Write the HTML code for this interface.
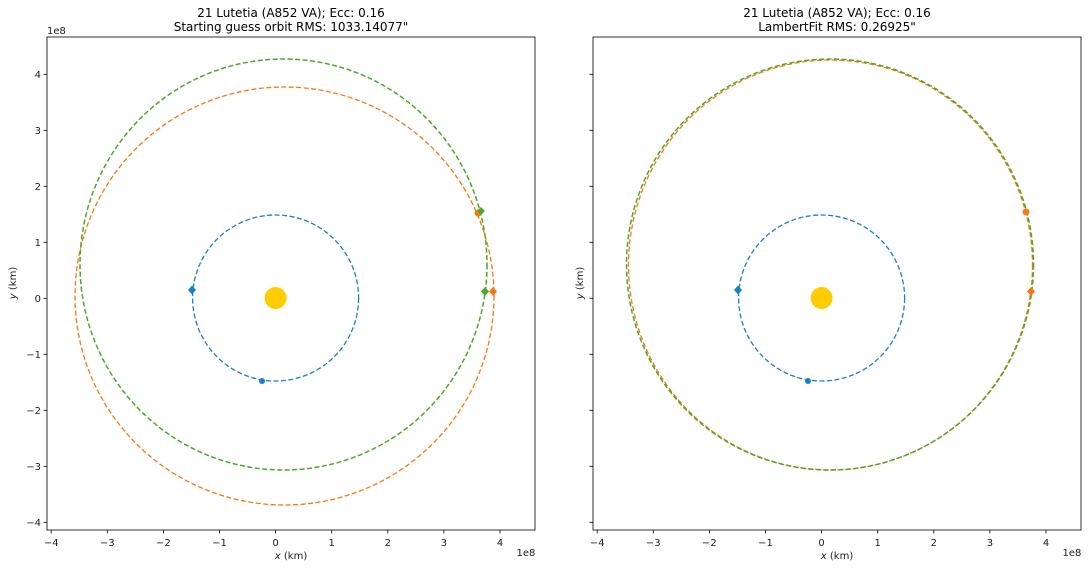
<!DOCTYPE html>
<html><head><meta charset="utf-8"><style>body{margin:0;background:#fff}svg{display:block}</style></head>
<body>
<svg width="1089" height="568" xmlns="http://www.w3.org/2000/svg" font-family="DejaVu Sans, Liberation Sans, sans-serif">
<defs>
<g id="ticks">
  <g stroke="#000" stroke-width="0.8">
    <line x1="51.2" y1="530" x2="51.2" y2="533.5"/><line x1="107.3" y1="530" x2="107.3" y2="533.5"/><line x1="163.4" y1="530" x2="163.4" y2="533.5"/><line x1="219.5" y1="530" x2="219.5" y2="533.5"/><line x1="275.6" y1="530" x2="275.6" y2="533.5"/><line x1="331.7" y1="530" x2="331.7" y2="533.5"/><line x1="387.8" y1="530" x2="387.8" y2="533.5"/><line x1="443.9" y1="530" x2="443.9" y2="533.5"/><line x1="500" y1="530" x2="500" y2="533.5"/>
    <line x1="43.5" y1="74.3" x2="47" y2="74.3"/><line x1="43.5" y1="130.3" x2="47" y2="130.3"/><line x1="43.5" y1="186.3" x2="47" y2="186.3"/><line x1="43.5" y1="242.3" x2="47" y2="242.3"/><line x1="43.5" y1="298.3" x2="47" y2="298.3"/><line x1="43.5" y1="354.3" x2="47" y2="354.3"/><line x1="43.5" y1="410.3" x2="47" y2="410.3"/><line x1="43.5" y1="466.3" x2="47" y2="466.3"/><line x1="43.5" y1="522.3" x2="47" y2="522.3"/>
  </g>
  <g font-size="10" text-anchor="middle" fill="#222">
    <text x="51.2" y="546">−4</text><text x="107.3" y="546">−3</text><text x="163.4" y="546">−2</text><text x="219.5" y="546">−1</text><text x="275.6" y="546">0</text><text x="331.7" y="546">1</text><text x="387.8" y="546">2</text><text x="443.9" y="546">3</text><text x="500" y="546">4</text>
    <text x="291" y="559" font-size="10"><tspan font-style="italic">x</tspan> (km)</text>
    <text x="526" y="556" font-size="10">1e8</text>
  </g>
  <rect x="47" y="37" width="488" height="493" fill="none" stroke="#000" stroke-width="0.8"/>
  <circle cx="275.6" cy="298" r="83" fill="none" stroke="#1a80c4" stroke-width="1.3" stroke-dasharray="5,2.5"/>
  <circle cx="275.6" cy="298" r="11" fill="#ffcc00"/>
  <path d="M192,285.5 L196,290 L192,294.5 L188,290Z" fill="#1a80c4"/>
  <circle cx="262" cy="381" r="3" fill="#1a80c4"/>
</g>
</defs>

<use href="#ticks"/>
<g font-size="10" text-anchor="end" fill="#222">
  <text x="41" y="78">4</text><text x="41" y="134">3</text><text x="41" y="190">2</text><text x="41" y="246">1</text><text x="41" y="302">0</text><text x="41" y="358">−1</text><text x="41" y="414">−2</text><text x="41" y="470">−3</text><text x="41" y="526">−4</text>
</g>
<text x="47" y="34" font-size="10" fill="#222">1e8</text>
<text transform="translate(16,283) rotate(-90)" font-size="10" text-anchor="middle" fill="#222"><tspan font-style="italic">y</tspan> (km)</text>
<text x="291" y="17" font-size="12" text-anchor="middle">21 Lutetia (A852 VA); Ecc: 0.16</text>
<text x="291" y="31" font-size="12" text-anchor="middle">Starting guess orbit RMS: 1033.14077"</text>
<ellipse cx="284.5" cy="296" rx="209.5" ry="209" fill="none" stroke="#f57a12" stroke-width="1.3" stroke-dasharray="5,2.5"/>
<ellipse cx="283.5" cy="264.5" rx="203.5" ry="205.5" fill="none" stroke="#4ea72a" stroke-width="1.5" stroke-dasharray="5,2.5"/>
<circle cx="478" cy="213" r="3.5" fill="#f57a12"/>
<path d="M481,207 L485,211 L481,215 L477,211Z" fill="#4ea72a"/>
<path d="M493,287 L497,291.5 L493,296 L489,291.5Z" fill="#f57a12"/>
<path d="M485,287 L489,291.5 L485,296 L481,291.5Z" fill="#4ea72a"/>

<g transform="translate(546,0)">
  <use href="#ticks"/>
  <text x="291" y="17" font-size="12" text-anchor="middle">21 Lutetia (A852 VA); Ecc: 0.16</text>
  <text x="291" y="31" font-size="12" text-anchor="middle">LambertFit RMS: 0.26925"</text>
  <text transform="translate(37,283) rotate(-90)" font-size="10" text-anchor="middle" fill="#222"><tspan font-style="italic">y</tspan> (km)</text>
  <ellipse cx="284.5" cy="265" rx="202" ry="205" fill="none" stroke="#f57a12" stroke-width="1.3" stroke-dasharray="5,2.5"/>
  <ellipse cx="284" cy="264.5" rx="203.5" ry="205.5" fill="none" stroke="#4ea72a" stroke-width="1.5" stroke-dasharray="5,2.5"/>
  <circle cx="480" cy="212" r="3.5" fill="#f57a12"/>
  <path d="M485,287 L489,291.5 L485,296 L481,291.5Z" fill="#f57a12"/>
</g>
</svg>
</body></html>
